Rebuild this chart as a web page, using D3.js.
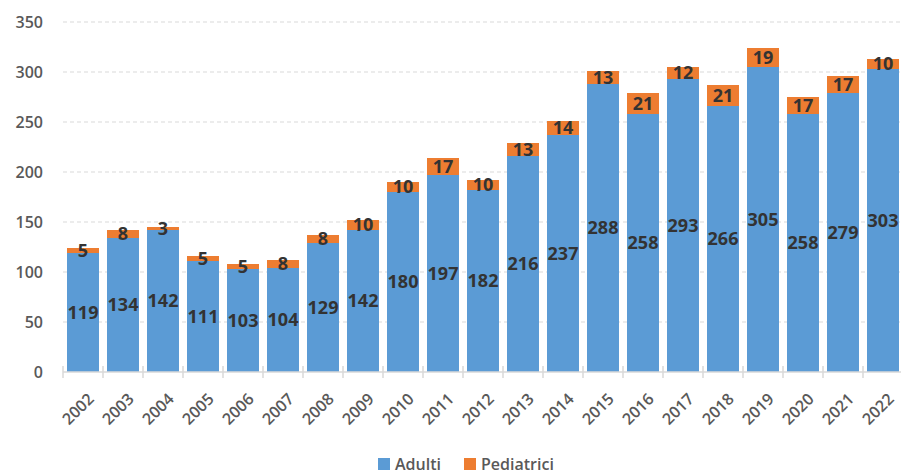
<!DOCTYPE html>
<html><head><meta charset="utf-8">
<script src="https://cdn.jsdelivr.net/npm/d3@7"></script>
<style>body{margin:0;background:#fff}</style>
</head><body>
<svg id="c" width="901" height="476"></svg>
<script>
const years = ["2002","2003","2004","2005","2006","2007","2008","2009","2010","2011","2012","2013","2014","2015","2016","2017","2018","2019","2020","2021","2022"];
const adulti = [119,134,142,111,103,104,129,142,180,197,182,216,237,288,258,293,266,305,258,279,303];
const pediatrici = [5,8,3,5,5,8,8,10,10,17,10,13,14,13,21,12,21,19,17,17,10];
const yTicks = [0,50,100,150,200,250,300,350];
const seriesNames = ["Adulti","Pediatrici"];
const colors = ["#5B9BD5","#ED7D31"];

const svg = d3.select("#c");
const font = "'Open Sans', sans-serif";
const x = d3.scaleBand().domain(years).range([63,903]).paddingInner(0.2).paddingOuter(0.1);
const y = d3.scaleLinear().domain([0,350]).range([372,22]);

// gridlines
svg.append("g").selectAll("line").data(yTicks.filter(d=>d>0)).join("line")
  .attr("x1",63).attr("x2",901).attr("y1",d=>y(d)).attr("y2",d=>y(d))
  .attr("stroke","#d9d9d9").attr("stroke-width",1.2).attr("stroke-dasharray","4,3");
// y labels
svg.append("g").selectAll("text").data(yTicks).join("text")
  .attr("x",43).attr("y",d=>y(d)).attr("dy","0.35em").attr("text-anchor","end")
  .attr("font-family",font).attr("font-size",16).attr("font-weight",600).attr("fill","#595959")
  .text(d=>d);

const data = years.map((yr,i)=>({yr,a:adulti[i],p:pediatrici[i]}));
const g = svg.append("g");
g.selectAll("rect.a").data(data).join("rect").attr("class","a")
  .attr("x",d=>x(d.yr)).attr("width",x.bandwidth())
  .attr("y",d=>y(d.a)).attr("height",d=>y(0)-y(d.a)).attr("fill",colors[0]);
g.selectAll("rect.p").data(data).join("rect").attr("class","p")
  .attr("x",d=>x(d.yr)).attr("width",x.bandwidth())
  .attr("y",d=>y(d.a+d.p)).attr("height",d=>y(d.a)-y(d.a+d.p)).attr("fill",colors[1]);

// x axis baseline
const axg = svg.append("g").attr("transform",`translate(0,${y(0)})`);
axg.append("line").attr("x1",63).attr("x2",903).attr("stroke","#d9d9d9").attr("stroke-width",1.5);
const bounds = years.map(yr=>x(yr)-x.step()*x.paddingInner()/2).concat([x(years[years.length-1])+x.bandwidth()+x.step()*x.paddingInner()/2]);
axg.selectAll("line.t").data(bounds).join("line").attr("class","t")
  .attr("x1",d=>d).attr("x2",d=>d).attr("y1",-6).attr("y2",6).attr("stroke","#d9d9d9").attr("stroke-width",1.5);

// x labels
svg.append("g").selectAll("text").data(years).join("text")
  .attr("transform",d=>`translate(${x(d)+x.bandwidth()/2+8},${y(0)+24}) rotate(-45)`)
  .attr("text-anchor","end").attr("dy","0.35em")
  .attr("font-family",font).attr("font-size",16).attr("font-weight",600).attr("fill","#595959")
  .text(d=>d);

// value labels
const lab = svg.append("g").attr("font-family",font).attr("font-size",18).attr("font-weight",700).attr("fill","#333").attr("text-anchor","middle");
lab.selectAll("text.a").data(data).join("text").attr("class","a")
  .attr("x",d=>x(d.yr)+x.bandwidth()/2).attr("y",d=>(y(d.a)+y(0))/2).attr("dy","0.35em").text(d=>d.a);
lab.selectAll("text.p").data(data).join("text").attr("class","p")
  .attr("x",d=>x(d.yr)+x.bandwidth()/2).attr("y",d=>(y(d.a)+y(d.a+d.p))/2).attr("dy","0.35em").text(d=>d.p);

// legend
const leg = svg.append("g").attr("font-family",font).attr("font-size",16).attr("font-weight",600).attr("fill","#595959");
const items = [{n:seriesNames[0],c:colors[0],x:378},{n:seriesNames[1],c:colors[1],x:464}];
items.forEach(it=>{
  leg.append("rect").attr("x",it.x).attr("y",458).attr("width",12).attr("height",12).attr("fill",it.c);
  leg.append("text").attr("x",it.x+17).attr("y",464).attr("dy","0.35em").text(it.n);
});
</script>
</body></html>
